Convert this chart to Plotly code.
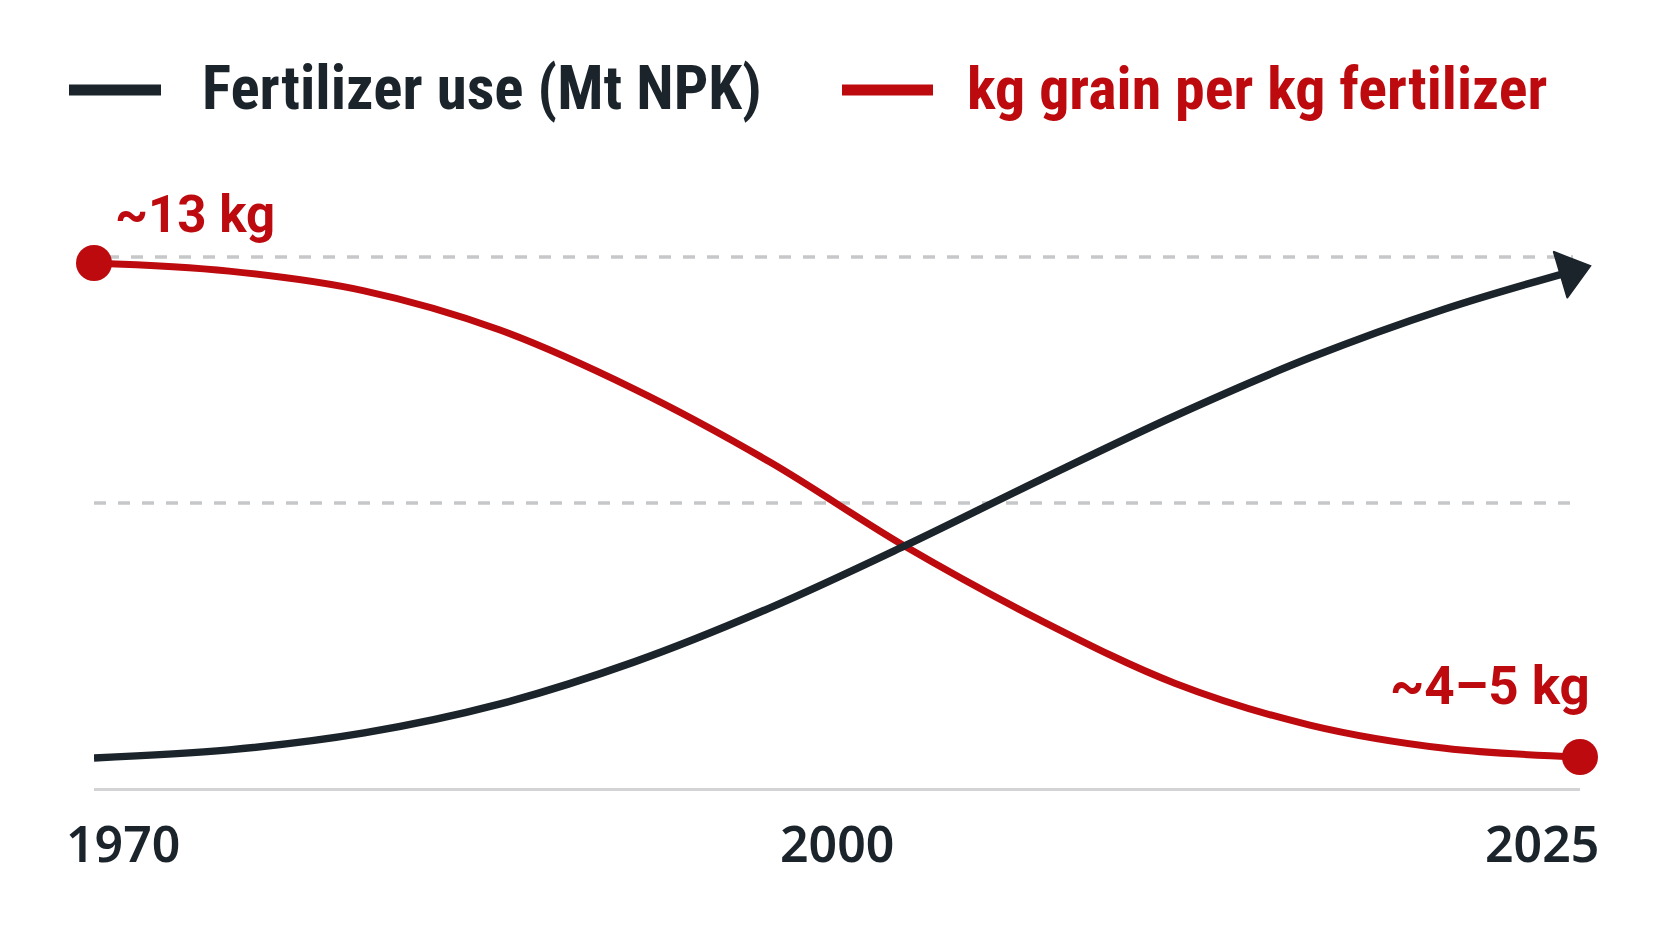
import plotly.graph_objects as go

# ---------------- data ----------------
years = [1970, 1975, 1980, 1985, 1990, 1995, 2000, 2005, 2010, 2015, 2020, 2025]
fert_use_mt = [30.0, 32.8, 38.7, 48.7, 63.4, 82.1, 103.7, 126.6, 148.9, 169.1, 186.1, 200.0]
grain_per_kg = [13.0, 12.86, 12.52, 11.85, 10.83, 9.58, 8.13, 6.86, 5.77, 5.05, 4.65, 4.50]
series_names = ["Fertilizer use (Mt NPK)", "kg grain per kg fertilizer"]
end_labels = ["~13 kg", "~4–5 kg"]
tick_years = [1970, 2000, 2025]
tick_labels = ["1970", "2000", "2025"]

# ---------------- style ----------------
RED = "#bd0a0e"
DARK = "#1b242b"
GRID = "#c6c7c9"
W, H = 1672, 941
L, R, T, B = 94, 92, 257, 153


def px(x):
    return (x - L) / (W - L - R)


def py(y):
    return (H - B - y) / (H - T - B)


fig = go.Figure()

n = len(years)
# fertilizer use (dark line)
fig.add_trace(go.Scatter(
    x=years, y=fert_use_mt, yaxis="y2", mode="lines",
    line=dict(color=DARK, width=7.5, shape="spline", smoothing=1.0),
    cliponaxis=False, hoverinfo="skip", showlegend=False,
))
# arrow head at the end of the fertilizer line
fig.add_trace(go.Scatter(
    x=years[-2:], y=fert_use_mt[-2:], yaxis="y2", mode="markers",
    marker=dict(symbol="triangle-up", angleref="previous", color=DARK, opacity=1,
                size=[0, 42], standoff=10, line=dict(color=DARK, width=1.5)),
    cliponaxis=False, hoverinfo="skip", showlegend=False,
))
# grain per kg fertilizer (red line)
fig.add_trace(go.Scatter(
    x=years, y=grain_per_kg, yaxis="y", mode="lines",
    line=dict(color=RED, width=7, shape="spline", smoothing=1.0),
    cliponaxis=False, hoverinfo="skip", showlegend=False,
))
fig.add_trace(go.Scatter(
    x=[years[0], years[-1]], y=[grain_per_kg[0], grain_per_kg[-1]], yaxis="y",
    mode="markers", marker=dict(color=RED, size=36),
    cliponaxis=False, hoverinfo="skip", showlegend=False,
))

shapes = [
    dict(type="line", xref="paper", yref="paper", x0=px(107), x1=px(1573), y0=1, y1=1,
         line=dict(color=GRID, width=3.5, dash="12px,12px"), layer="below"),
    dict(type="line", xref="paper", yref="paper", x0=0, x1=px(1573), y0=py(503), y1=py(503),
         line=dict(color=GRID, width=3.5, dash="12px,12px"), layer="below"),
    # custom legend swatches
    dict(type="line", xref="paper", yref="paper", x0=px(69), x1=px(161), y0=py(90), y1=py(90),
         line=dict(color=DARK, width=11)),
    dict(type="line", xref="paper", yref="paper", x0=px(842), x1=px(933), y0=py(90), y1=py(90),
         line=dict(color=RED, width=11)),
]

legend_font = "Liberation Sans Narrow, Roboto Condensed, Arial Narrow, Roboto, sans-serif"
annotations = [
    dict(text=series_names[0], xref="paper", yref="paper", x=px(200), y=py(88),
         xanchor="left", yanchor="middle", showarrow=False,
         font=dict(family=legend_font, size=61, color=DARK, weight="bold")),
    dict(text=series_names[1], xref="paper", yref="paper", x=px(965), y=py(88),
         xanchor="left", yanchor="middle", showarrow=False,
         font=dict(family=legend_font, size=60, color=RED, weight="bold")),
    dict(text=end_labels[0], xref="x", yref="y", x=years[0], y=grain_per_kg[0],
         xanchor="left", yanchor="middle", xshift=19, yshift=49, showarrow=False,
         font=dict(family="Roboto, sans-serif", size=51, color=RED, weight="bold")),
    dict(text=end_labels[1], xref="x", yref="y", x=years[-1], y=grain_per_kg[-1],
         xanchor="right", yanchor="middle", xshift=12, yshift=71, showarrow=False,
         font=dict(family="Roboto, sans-serif", size=53, color=RED, weight="bold")),
]
tick_anchor = ["left", "center", "right"]
tick_shift = [-30, -68, 21]
for yr, lab, anc, sh in zip(tick_years, tick_labels, tick_anchor, tick_shift):
    annotations.append(dict(
        text=lab, xref="x", yref="paper", x=yr, y=py(843), xanchor=anc, yanchor="middle",
        xshift=sh, showarrow=False,
        font=dict(family="Noto Sans, sans-serif", size=50, color=DARK, weight=600)))

fig.update_layout(
    width=W, height=H,
    margin=dict(l=L, r=R, t=T, b=B),
    paper_bgcolor="white", plot_bgcolor="white",
    showlegend=False,
    xaxis=dict(range=[years[0], years[-1]], showgrid=False, zeroline=False,
               showticklabels=False, ticks="", showline=True, linecolor="#d3d3d5", linewidth=3),
    yaxis=dict(range=[3.9666, 13.1032], visible=False, showgrid=False, zeroline=False),
    yaxis2=dict(range=[19.54, 204.17], overlaying="y", visible=False, showgrid=False, zeroline=False),
    shapes=shapes,
    annotations=annotations,
)

fig.write_html("out.html")
